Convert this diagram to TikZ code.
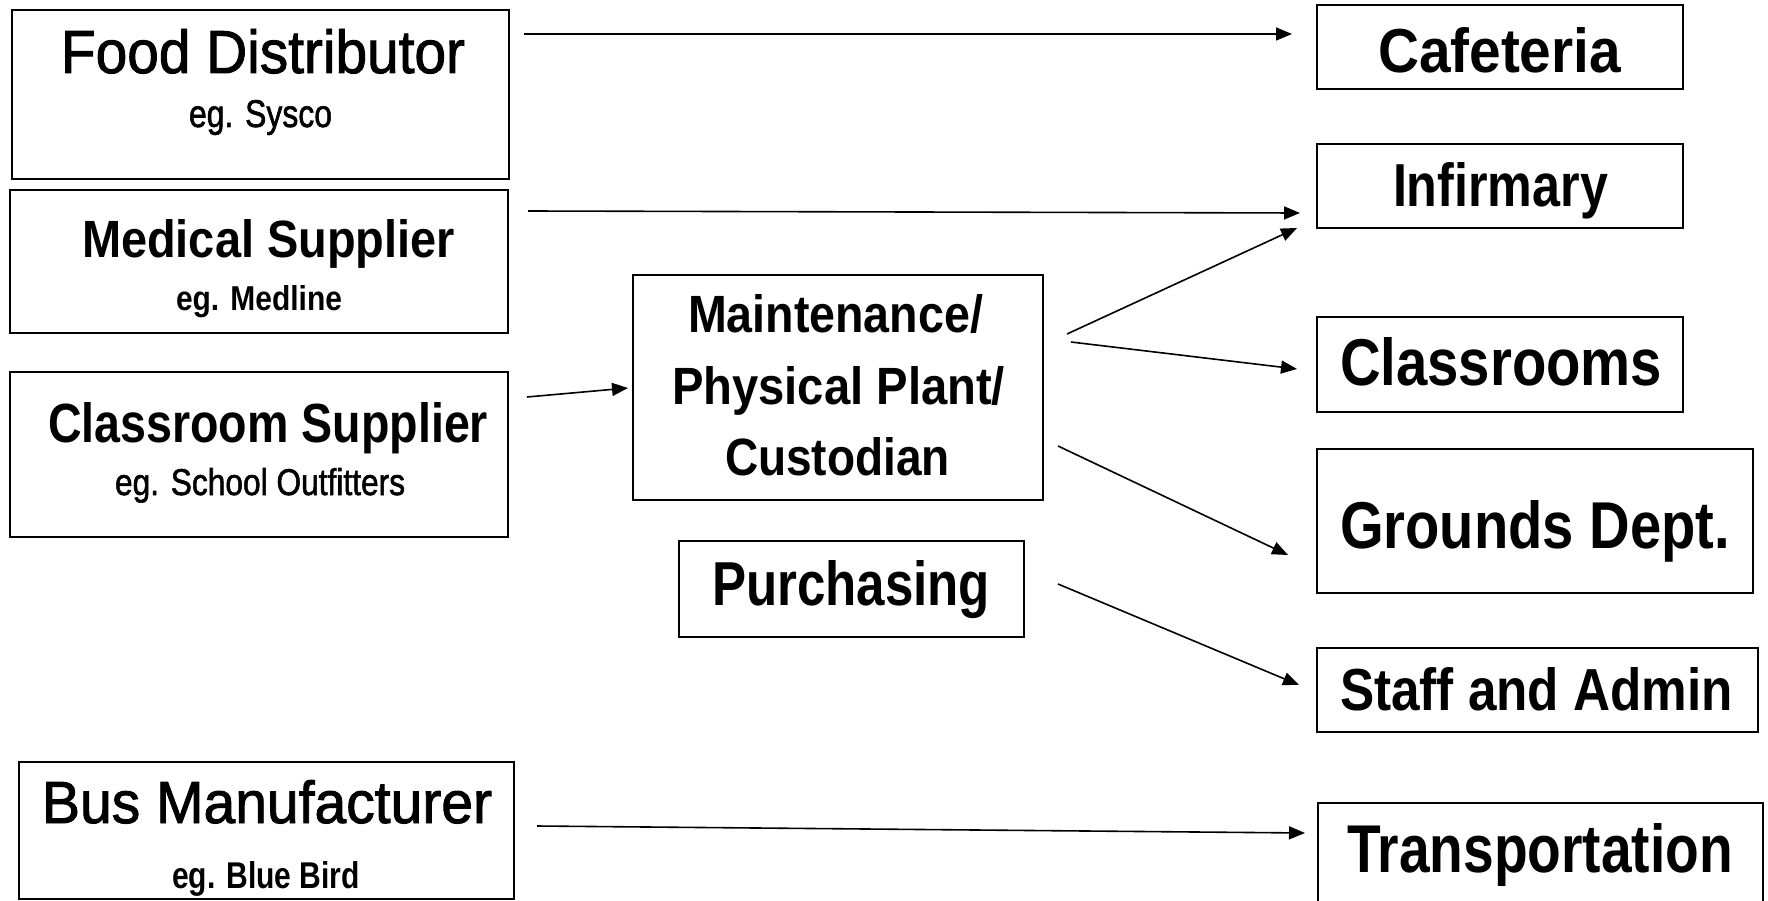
\documentclass[tikz,border=0pt]{standalone}
\usepackage{fontspec}
\setmainfont{Liberation Sans}
\newfontfamily\midf[FakeBold=1.6]{Liberation Sans}
\usetikzlibrary{arrows.meta}
\newcommand\fitt[3]{\resizebox{#1pt}{#2pt}{#3}}
\begin{document}
\begin{tikzpicture}[x=1pt,y=-1pt,
  box/.style={draw, line width=2pt, inner sep=0pt, outer sep=0pt, anchor=north west},
  lbl/.style={inner sep=0pt, outer sep=0pt, anchor=base west},
  conn/.style={line width=1.6pt, -{Triangle[length=16pt,width=13pt]}}]
\clip (0,0) rectangle (1768,901);
\fill[white] (0,0) rectangle (1768,901);
% left boxes
\node[box, minimum width=497pt, minimum height=169pt] (food) at (12,10) {};
\node[box, minimum width=498pt, minimum height=143pt] (med) at (10,190) {};
\node[box, minimum width=498pt, minimum height=165pt] (cls) at (10,372) {};
\node[box, minimum width=495pt, minimum height=137pt] (bus) at (19,762) {};
% middle boxes
\node[box, minimum width=410pt, minimum height=225pt] (maint) at (633,275) {};
\node[box, minimum width=345pt, minimum height=96pt] (purch) at (679,541) {};
% right boxes
\node[box, minimum width=366pt, minimum height=84pt] (caf) at (1317,5) {};
\node[box, minimum width=366pt, minimum height=84pt] (inf) at (1317,144) {};
\node[box, minimum width=366pt, minimum height=95pt] (clr) at (1317,317) {};
\node[box, minimum width=436pt, minimum height=144pt] (grd) at (1317,449) {};
\node[box, minimum width=441pt, minimum height=84pt] (staff) at (1317,648) {};
\node[box, minimum width=445pt, minimum height=120pt] (trans) at (1318,803) {};
% texts
\node[lbl] (foodT) at (61,73) {\fitt{404}{44}{\midf Food Distributor}};
\node[lbl] (foodE) at (189,127) {\fitt{143}{27}{\midf eg. Sysco}};
\node[lbl] (medT) at (82,258) {\fitt{373}{38}{\bfseries Medical Supplier}};
\node[lbl] (medE) at (176,310) {\fitt{166}{25}{\bfseries eg. Medline}};
\node[lbl] (clsT) at (48,442) {\fitt{440}{40}{\bfseries Classroom Supplier}};
\node[lbl] (clsE) at (115,495) {\fitt{290}{27}{\midf eg. School Outfitters}};
\node[lbl] (busT) at (42,823) {\fitt{450}{43}{\midf Bus Manufacturer}};
\node[lbl] (busE) at (172,888) {\fitt{188}{27}{\bfseries eg. Blue Bird}};
\node[lbl] (mT1) at (688,332) {\fitt{295}{38}{\bfseries Maintenance/}};
\node[lbl] (mT2) at (672,404) {\fitt{333}{38}{\bfseries Physical Plant/}};
\node[lbl] (mT3) at (725,475) {\fitt{225}{38}{\bfseries Custodian}};
\node[lbl] (pT) at (712,605) {\fitt{278}{45}{\bfseries Purchasing}};
\node[lbl] (cafT) at (1378,73) {\fitt{243}{45}{\bfseries Cafeteria}};
\node[lbl] (infT) at (1393,207) {\fitt{215}{44}{\bfseries Infirmary}};
\node[lbl] (clrT) at (1340,385) {\fitt{322}{48}{\bfseries Classrooms}};
\node[lbl] (grdT) at (1340,548) {\fitt{390}{48}{\bfseries Grounds Dept.}};
\node[lbl] (staffT) at (1340,710) {\fitt{393}{43}{\bfseries Staff and Admin}};
\node[lbl] (transT) at (1347,872) {\fitt{386}{49}{\bfseries Transportation}};
% connectors
\draw[conn] ([shift={(15,24)}]food.north east) -- ([shift={(-25,29)}]caf.north west);
\draw[conn] ([shift={(20,21)}]med.north east) -- ([shift={(-17,69)}]inf.north west);
\draw[conn] ([shift={(19,25)}]cls.north east) -- ([shift={(-5,113)}]maint.north west);
\draw[conn] ([shift={(24,59)}]maint.north east) -- ([shift={(-20,84)}]inf.north west);
\draw[conn] ([shift={(28,67)}]maint.north east) -- ([shift={(-20,52)}]clr.north west);
\draw[conn] ([shift={(15,171)}]maint.north east) -- ([shift={(-29,106)}]grd.north west);
\draw[conn] ([shift={(34,43)}]purch.north east) -- ([shift={(-18,37)}]staff.north west);
\draw[conn] ([shift={(23,64)}]bus.north east) -- ([shift={(-13,30)}]trans.north west);
\end{tikzpicture}
\end{document}
